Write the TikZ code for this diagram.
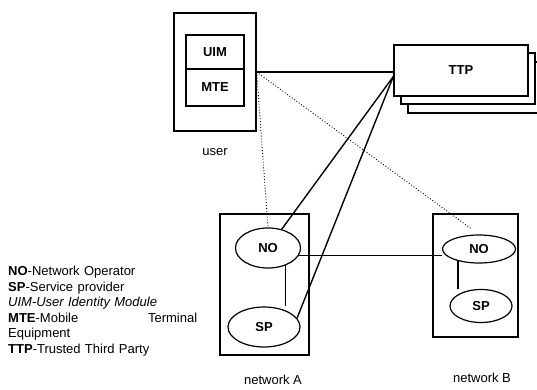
\documentclass[tikz,border=0pt]{standalone}
\usepackage{fontspec}
\setmainfont{Liberation Sans}
\usetikzlibrary{shapes.geometric,calc}

\newcommand\lblfont{\fontsize{13}{15.6}\selectfont}

\tikzset{
  box/.style={draw, line width=1.3pt, fill=white, inner sep=0pt},
  oval/.style={draw, ellipse, line width=1.2pt, inner sep=0pt, font=\lblfont\bfseries},
  link/.style={line width=1.4pt},
  dotlink/.style={dotted, line width=0.9pt},
}

\begin{document}
\begin{tikzpicture}[x=1pt,y=1pt,yscale=-1,xscale=1,font=\lblfont]
    \useasboundingbox (0,0) rectangle (537,390);

    %Shape: user terminal
    \node [box, minimum width=82pt, minimum height=118pt] (user) at (215,72) {};
    \node [box, minimum width=58pt, minimum height=34pt, font=\lblfont\bfseries] (uim) at (215,52) {UIM};
    \node [box, minimum width=58pt, minimum height=37pt, font=\lblfont\bfseries] (mte) at (215,87.5) {MTE};
    % Text Node
    \node (userlbl) at (215,152) {user};

    %Shape: stacked TTP boxes
    \node [box, minimum width=134pt, minimum height=51pt] (ttpc) at (475,87.5) {};
    \node [box, minimum width=134pt, minimum height=51pt] (ttpb) at (468,78.5) {};
    \node [box, minimum width=134pt, minimum height=51pt, font=\lblfont\bfseries] (ttp) at (461,70.5) {TTP};

    %Shape: networks
    \node [box, minimum width=89pt, minimum height=141pt] (netA) at (264.5,284.5) {};
    \node [box, minimum width=85pt, minimum height=123pt] (netB) at (475.5,275.5) {};
    \node [oval, minimum width=65pt, minimum height=40pt] (noA) at (268,248) {NO};
    \node [oval, minimum width=72pt, minimum height=40pt] (spA) at (264,327) {SP};
    \node [oval, minimum width=73pt, minimum height=28pt] (noB) at (479,249) {NO};
    \node [oval, minimum width=62pt, minimum height=33pt] (spB) at (481,306) {SP};
    % Text Node
    \node (labA) at (273,380) {network A};
    % Text Node
    \node (labB) at (482,378) {network B};

    %Straight Lines
    \coordinate (hub) at ($(ttp.west)+(0,6)$);
    \draw [link] (user.east) -- (user.east -| ttp.west);
    \draw [dotlink] (user.east) -- (noA.north);
    \draw [dotlink, shorten >=9pt] (user.east) -- (noB.north);
    \draw [link] (hub) -- (noA);
    \draw [link] (hub) -- (spA.15);
    \draw [link, line width=1.1pt] (noA.-14) -- (noA.-14 -| noB.west);
    \draw [link] (noA.-45) -- (noA.-45 |- spA.north);
    \draw [link] (noB.-150) -- (noB.-150 |- spB.north);

    % Text Node
    \node [anchor=north west, align=left, text width=189pt, inner sep=0pt] (legend) at (8,265.8) {\textbf{NO}-Network Operator\\ \textbf{SP}-Service provider\\ \textit{UIM-User Identity Module}\\ \textbf{MTE}-Mobile\hfill Terminal\\ Equipment\\ \textbf{TTP}-Trusted Third Party};

\end{tikzpicture}
\end{document}
